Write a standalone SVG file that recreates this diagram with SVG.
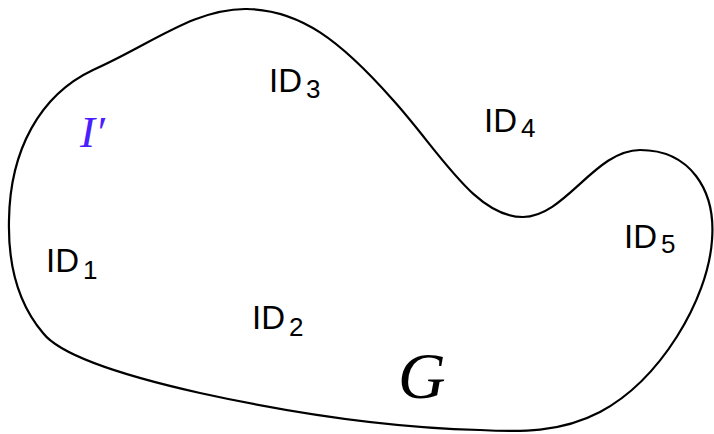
<svg xmlns="http://www.w3.org/2000/svg" width="714" height="434" viewBox="0 0 714 434">
<style>
.id{font-family:"Liberation Sans","DejaVu Sans",sans-serif;font-size:33px;fill:#000}
.sub{font-family:"Liberation Sans","DejaVu Sans",sans-serif;font-size:26px;fill:#000}
.m{font-family:"Liberation Serif","DejaVu Serif",serif;font-style:italic}
</style>
<rect width="714" height="434" fill="#fff"/>
<g id="region-G">
<path d="M 93,70 C 150,45 195,8 247,9 C 300,10 340,40 393,100 C 440,152 475,217 523,217 C 565,217 595,150 640,150 C 690,150 716,190 712,240 C 708,300 660,380 600,412 C 560,433 520,432 480,430 C 400,428 300,415 200,393 C 120,375 60,355 43,333 C 15,300 8,260 9,220 C 10,150 40,95 93,70 Z" fill="none" stroke="#000" stroke-width="2.2"/>
</g>
<g id="label-G"><text class="m" x="398" y="398" font-size="66">G</text></g>
<g id="label-I"><text class="m" x="80" y="147" font-size="45" fill="#4b1eff">I′</text></g>
<g id="ID1"><text class="id" x="46" y="272">ID</text><text class="sub" x="83" y="279">1</text></g>
<g id="ID2"><text class="id" x="252" y="329">ID</text><text class="sub" x="289" y="336">2</text></g>
<g id="ID3"><text class="id" x="269" y="92">ID</text><text class="sub" x="306" y="98">3</text></g>
<g id="ID4"><text class="id" x="484" y="132">ID</text><text class="sub" x="521" y="137">4</text></g>
<g id="ID5"><text class="id" x="624" y="248">ID</text><text class="sub" x="661" y="253">5</text></g>
</svg>
